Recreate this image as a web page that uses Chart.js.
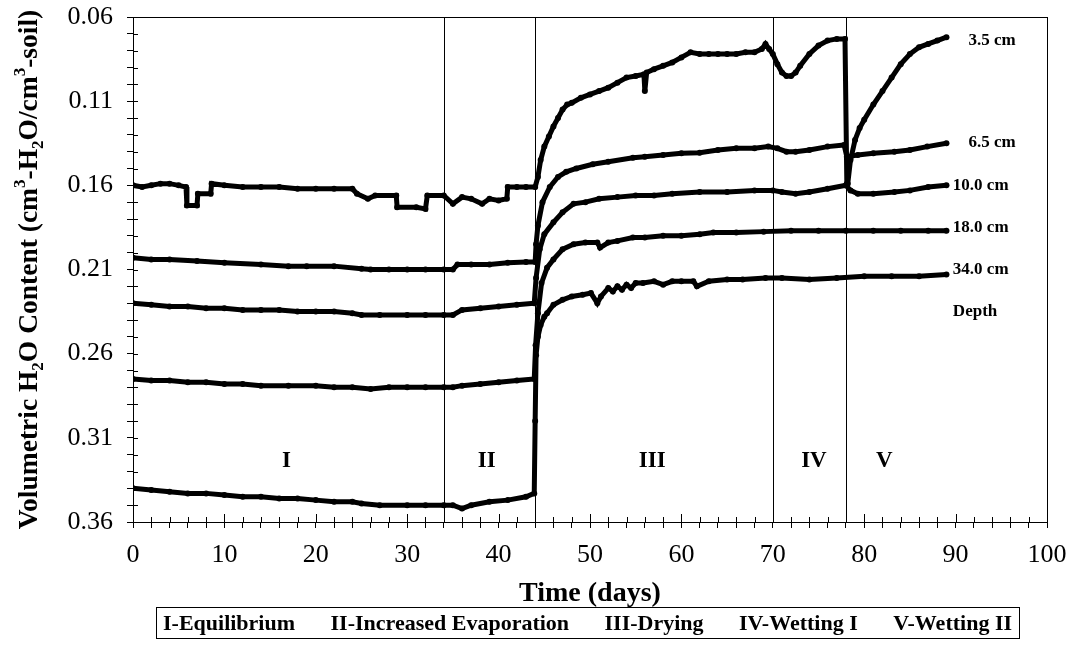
<!DOCTYPE html>
<html>
<head>
<meta charset="utf-8">
<script src="https://cdn.jsdelivr.net/npm/chart.js@4.4.1/dist/chart.umd.min.js"></script>
<style>
  html, body { margin: 0; padding: 0; background: #fff; }
  #wrap { width: 1075px; height: 648px; position: relative; }
</style>
</head>
<body>
<div id="wrap"><canvas id="soilChart"></canvas></div>
<script>
// soil water content by depth
const days35 = [0,1,2,3,4,5,5.8,5.9,7,7.1,8.5,8.6,10,12,14,16,18,20,22,24,24.5,25.7,26.5,28.8,28.9,31,32,32.2,34,35,36,37,38.2,39,40,40.9,41,42,43,44,44.3,44.6,45,45.5,46,46.5,47,47.5,48,49,50,51,52,53,54,55,55.9,56,56.2,57,58,59,60,61,62,63,64,65,66,67,68,68.8,69.2,69.6,70,70.5,71,71.5,72,72.5,73,74,75,76,77,77.9,78.1,78.2,78.5,79,79.5,80,81,82,83,84,85,86,87,88,89];
const vol35 = [0.160,0.161,0.160,0.159,0.159,0.160,0.161,0.172,0.172,0.165,0.165,0.159,0.160,0.161,0.161,0.161,0.162,0.162,0.162,0.162,0.165,0.168,0.166,0.166,0.173,0.173,0.174,0.166,0.166,0.171,0.167,0.168,0.171,0.168,0.169,0.168,0.161,0.161,0.161,0.161,0.155,0.145,0.137,0.131,0.125,0.120,0.115,0.112,0.111,0.108,0.106,0.104,0.102,0.099,0.096,0.095,0.094,0.104,0.093,0.091,0.089,0.087,0.084,0.081,0.082,0.082,0.082,0.082,0.082,0.081,0.081,0.079,0.076,0.079,0.082,0.088,0.093,0.095,0.095,0.093,0.089,0.082,0.077,0.074,0.073,0.073,0.159,0.159,0.145,0.133,0.126,0.121,0.112,0.104,0.096,0.088,0.082,0.078,0.076,0.074,0.072];

const days65 = [0,2,4,7,10,14,17,19,22,25,26,28,30,32,34,35,35.5,37,39,41,43,44,44.1,44.3,44.8,45.6,46.5,47.4,48.5,50.3,52,54.7,56,58,60,62,64,66,68,69.5,70.5,71.5,72.5,74,76,77.8,78.1,79.3,81,83.3,85,86.9,89];
const vol65 = [0.203,0.204,0.204,0.205,0.206,0.207,0.208,0.208,0.208,0.2095,0.210,0.210,0.210,0.210,0.210,0.210,0.207,0.207,0.207,0.206,0.2056,0.2055,0.195,0.184,0.170,0.161,0.155,0.152,0.150,0.1475,0.146,0.1436,0.143,0.142,0.141,0.1406,0.139,0.138,0.138,0.137,0.138,0.140,0.140,0.139,0.137,0.136,0.143,0.142,0.141,0.140,0.139,0.137,0.135];

const days10 = [0,2,4,6,8,10,12,14,16,18,20,22,24,25,27,30,32,34,35,36,38,40,42,43.9,44.1,44.5,45,46,47,48.2,49.5,51,53,55,57,59,62,65,68,70,71,72.5,74,76,78,78.5,79.3,81,83.3,85,87,89];
const vol10 = [0.230,0.231,0.232,0.232,0.233,0.233,0.234,0.234,0.234,0.235,0.235,0.235,0.236,0.237,0.237,0.237,0.237,0.237,0.237,0.234,0.233,0.232,0.231,0.230,0.215,0.198,0.189,0.182,0.176,0.171,0.170,0.168,0.167,0.166,0.166,0.165,0.164,0.164,0.163,0.163,0.164,0.165,0.164,0.162,0.160,0.163,0.165,0.165,0.164,0.163,0.161,0.160];

const days18 = [0,2,4,6,8,10,12,14,17,20,22,24,26,28,30,32,34,35,36,38,40,42,43.9,44.05,44.3,44.7,45.3,46,47,48.2,49.5,50.8,51.1,52,53,54.7,56,58,60,62,63.5,66,69,72,75,78,81,84,87,89];
const vol18 = [0.275,0.276,0.276,0.277,0.277,0.278,0.278,0.279,0.279,0.279,0.280,0.280,0.281,0.280,0.280,0.280,0.280,0.280,0.279,0.278,0.277,0.276,0.275,0.255,0.236,0.218,0.209,0.204,0.198,0.195,0.194,0.194,0.197,0.194,0.193,0.191,0.191,0.190,0.190,0.189,0.188,0.188,0.1875,0.187,0.187,0.187,0.187,0.187,0.187,0.187];

const days34 = [0,2,4,6,8,10,12,14,16,18,20,22,24,25,27,30,32,34,35,36,37,39,41,43,43.9,44.0,44.1,44.3,44.6,45,45.3,46,47,48,49.2,50.1,50.8,51.2,52,52.5,53,53.5,54,54.5,55,55.8,57,58,59,60,61.3,61.7,63,65,66.7,69.2,71,74,77,80,83,86,89];
const vol34 = [0.340,0.341,0.342,0.343,0.343,0.344,0.345,0.345,0.346,0.346,0.347,0.348,0.348,0.349,0.350,0.350,0.350,0.350,0.350,0.352,0.350,0.348,0.347,0.345,0.343,0.300,0.261,0.250,0.243,0.238,0.236,0.231,0.228,0.226,0.225,0.224,0.230,0.226,0.221,0.223,0.220,0.222,0.219,0.221,0.218,0.218,0.217,0.219,0.217,0.217,0.217,0.220,0.217,0.216,0.216,0.215,0.215,0.216,0.215,0.214,0.214,0.214,0.213];

// phase boundaries and labels
const phaseLines = [34, 44, 70, 78];
const phaseNames = ['I', 'II', 'III', 'IV', 'V'];
const phaseMid = [16.8, 38.7, 56.8, 74.5, 82.2];
const phaseLegend = ['I-Equilibrium', 'II-Increased Evaporation', 'III-Drying', 'IV-Wetting I', 'V-Wetting II'];

// depth labels at the right end of each curve
const depthNames = ['3.5 cm', '6.5 cm', '10.0 cm', '18.0 cm', '34.0 cm', 'Depth'];
const depthAtX = [91.4, 91.4, 89.7, 89.7, 89.7, 89.7];
const depthAtY = [0.0742, 0.1345, 0.160, 0.185, 0.210, 0.235];

const serif = "'Liberation Serif', 'Times New Roman', serif";

function toPoints(xs, ys) {
    return xs.map((x, i) => ({ x: x, y: ys[i] }));
}

function series(xs, ys) {
    return {
        data: toPoints(xs, ys),
        borderColor: '#000',
        backgroundColor: '#000',
        borderWidth: 5,
        pointRadius: 3,
        pointBorderWidth: 0,
        pointBackgroundColor: '#000',
        tension: 0,
        fill: false
    };
}

// draws text made of runs, some of them sub- or superscript
function drawRuns(ctx, runs, size) {
    const small = Math.round(size * 0.62);
    let total = 0;
    runs.forEach(r => {
        ctx.font = `bold ${r.s ? small : size}px ${serif}`;
        r.w = ctx.measureText(r.t).width;
        total += r.w;
    });
    let x = -total / 2;
    runs.forEach(r => {
        ctx.font = `bold ${r.s ? small : size}px ${serif}`;
        const dy = r.s === 'sub' ? size * 0.22 : (r.s === 'sup' ? -size * 0.42 : 0);
        ctx.fillText(r.t, x, dy);
        x += r.w;
    });
}

// no label overhang, so the plot area sits where the padding says
function noOverhang(s) {
    s.paddingTop = 0;
    s.paddingBottom = 0;
    s.paddingLeft = 0;
    s.paddingRight = 0;
}

const decorPlugin = {
    id: 'decor',
    beforeDatasetsDraw(chart) {
        const { ctx, chartArea: a, scales: { x, y } } = chart;
        ctx.save();
        ctx.strokeStyle = '#000';
        ctx.lineWidth = 1;
        phaseLines.forEach(d => {
            const px = Math.round(x.getPixelForValue(d)) + 0.5;
            ctx.beginPath();
            ctx.moveTo(px, a.top);
            ctx.lineTo(px, a.bottom);
            ctx.stroke();
        });
        ctx.strokeRect(Math.round(a.left) + 0.5, Math.round(a.top) + 0.5, Math.round(a.right - a.left), Math.round(a.bottom - a.top));

        // tick marks cross the axes, so add the inner half
        ctx.beginPath();
        x.ticks.forEach(t => {
            const px = Math.round(x.getPixelForValue(t.value)) + 0.5;
            ctx.moveTo(px, a.bottom);
            ctx.lineTo(px, a.bottom - (t.value % 10 === 0 ? 8 : 5));
        });
        y.ticks.forEach(t => {
            const py = Math.round(y.getPixelForValue(t.value)) + 0.5;
            ctx.moveTo(a.left, py);
            ctx.lineTo(a.left + 5, py);
        });
        ctx.stroke();
        ctx.restore();
    },
    afterDraw(chart) {
        const { ctx, chartArea: a, scales: { x, y } } = chart;
        ctx.save();
        ctx.fillStyle = '#000';

        // phase numerals
        ctx.font = `bold 23px ${serif}`;
        ctx.textAlign = 'center';
        ctx.textBaseline = 'middle';
        phaseNames.forEach((n, i) => {
            ctx.fillText(n, x.getPixelForValue(phaseMid[i]), y.getPixelForValue(0.324));
        });

        // depth labels
        ctx.font = `bold 17px ${serif}`;
        ctx.textAlign = 'left';
        depthNames.forEach((n, i) => {
            ctx.fillText(n, x.getPixelForValue(depthAtX[i]), y.getPixelForValue(depthAtY[i]));
        });

        // x title
        ctx.font = `bold 28px ${serif}`;
        ctx.textAlign = 'center';
        ctx.textBaseline = 'alphabetic';
        ctx.fillText('Time (days)', x.getPixelForValue(50), 601);

        // y title, rotated
        ctx.save();
        ctx.translate(37, (a.top + a.bottom) / 2);
        ctx.rotate(-Math.PI / 2);
        ctx.textAlign = 'left';
        drawRuns(ctx, [
            { t: 'Volumetric H' }, { t: '2', s: 'sub' }, { t: 'O Content (cm' }, { t: '3', s: 'sup' },
            { t: '-H' }, { t: '2', s: 'sub' }, { t: 'O/cm' }, { t: '3', s: 'sup' }, { t: '-soil)' }
        ], 27.5);
        ctx.restore();

        // phase legend box, items spread evenly inside
        const boxL = 156, boxR = 1019, boxT = 607, boxB = 638;
        ctx.strokeStyle = '#000';
        ctx.lineWidth = 1;
        ctx.strokeRect(boxL + 0.5, boxT + 0.5, boxR - boxL, boxB - boxT);
        ctx.font = `bold 22px ${serif}`;
        ctx.textAlign = 'left';
        const widths = phaseLegend.map(t => ctx.measureText(t).width);
        const used = widths.reduce((s, w) => s + w, 0);
        const inner = (boxR - 7) - (boxL + 7);
        const gap = (inner - used) / (phaseLegend.length - 1);
        let tx = boxL + 7;
        phaseLegend.forEach((t, i) => {
            ctx.fillText(t, tx, 630);
            tx += widths[i] + gap;
        });
        ctx.restore();
    }
};

const ctx = document.getElementById('soilChart').getContext('2d');
new Chart(ctx, {
    type: 'line',
    data: {
        datasets: [
            series(days35, vol35),
            series(days65, vol65),
            series(days10, vol10),
            series(days18, vol18),
            series(days34, vol34)
        ]
    },
    options: {
        responsive: true,
        maintainAspectRatio: false,
        animation: false,
        layout: { padding: { top: 17, right: 28, left: 0, bottom: 0 } },
        plugins: { legend: { display: false }, tooltip: { enabled: false } },
        scales: {
            x: {
                type: 'linear',
                min: 0,
                max: 100,
                afterFit: s => { s.height = 126; noOverhang(s); },
                grid: { drawOnChartArea: false, drawTicks: true, tickLength: 6, color: '#000' },
                border: { color: '#000', width: 1 },
                ticks: {
                    stepSize: 2,
                    autoSkip: false,
                    maxRotation: 0,
                    padding: 12,
                    color: '#000',
                    font: { family: serif, size: 26 },
                    callback: v => (v % 10 === 0 ? String(v) : '')
                }
            },
            y: {
                type: 'linear',
                reverse: true,
                min: 0.06,
                max: 0.36,
                afterFit: s => { s.width = 133; noOverhang(s); },
                grid: { drawOnChartArea: false, drawTicks: true, tickLength: 6, color: '#000' },
                border: { color: '#000', width: 1 },
                ticks: {
                    stepSize: 0.01,
                    autoSkip: false,
                    padding: 14,
                    color: '#000',
                    font: { family: serif, size: 26 },
                    callback: v => ((Math.round(v * 100) - 6) % 5 === 0 ? v.toFixed(2) : '')
                }
            }
        }
    },
    plugins: [decorPlugin]
});
</script>
</body>
</html>
